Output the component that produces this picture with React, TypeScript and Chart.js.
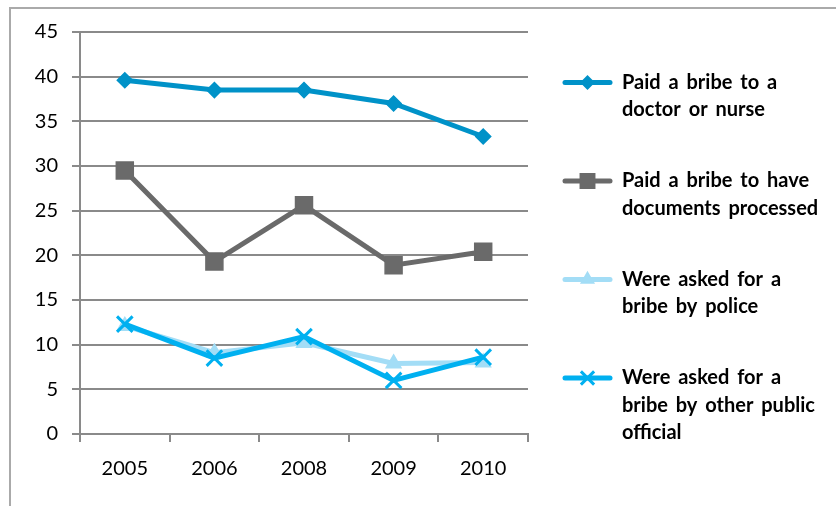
import React, { useEffect, useRef } from "react";
import { Chart, registerables } from "chart.js";
import { drawPoint } from "chart.js/helpers";

Chart.register(...registerables);

const categories = ["2005", "2006", "2008", "2009", "2010"];
const doctorNurse = [39.6, 38.5, 38.5, 37.0, 33.3];
const documentsProcessed = [29.5, 19.3, 25.6, 18.9, 20.4];
const askedByPolice = [12.1, 9.1, 10.2, 7.9, 8.0];
const askedByOtherOfficial = [12.3, 8.5, 10.9, 6.0, 8.6];

const seriesNames = [
  "Paid a bribe to a doctor or nurse",
  "Paid a bribe to have documents processed",
  "Were asked for a bribe by police",
  "Were asked for a bribe by other public official",
];
const legendLines = [
  ["Paid a bribe to a", "doctor or nurse"],
  ["Paid a bribe to have", "documents processed"],
  ["Were asked for a", "bribe by police"],
  ["Were asked for a", "bribe by other public", "official"],
];

const yMin = 0;
const yMax = 45;
const yStep = 5;

const GRID = "#8a8a8a";

const framePlugin = {
  id: "frame",
  beforeDraw(chart: any) {
    const ctx = chart.ctx;
    ctx.save();
    ctx.strokeStyle = "#aaaaaa";
    ctx.lineWidth = 2;
    ctx.beginPath();
    ctx.moveTo(10, 506);
    ctx.lineTo(10, 8);
    ctx.lineTo(836, 8);
    ctx.stroke();
    ctx.restore();
  },
};

const legendPlugin = {
  id: "sideLegend",
  afterDraw(chart: any) {
    const ctx = chart.ctx;
    chart.data.datasets.forEach((ds: any, i: number) => {
      const y = 82.5 + i * 98.5;
      ctx.save();
      ctx.strokeStyle = ds.borderColor;
      ctx.lineWidth = 5;
      ctx.lineCap = "round";
      ctx.beginPath();
      ctx.moveTo(565, y);
      ctx.lineTo(610, y);
      ctx.stroke();
      ctx.fillStyle = ds.pointBackgroundColor;
      ctx.strokeStyle = ds.pointBorderColor;
      ctx.lineWidth = ds.pointBorderWidth;
      ctx.lineCap = "butt";
      drawPoint(
        ctx,
        {
          radius: ds.pointRadius * 0.85,
          pointStyle: ds.pointStyle,
          rotation: 0,
          borderWidth: ds.pointBorderWidth,
        } as any,
        587.5,
        y
      );
      ctx.fillStyle = "#000000";
      ctx.font = "bold 20px Lato";
      try {
        (ctx as any).wordSpacing = "3px";
      } catch (e) {}
      ctx.textBaseline = "middle";
      ctx.textAlign = "left";
      legendLines[i].forEach((line, j) => {
        ctx.fillText(line, 622, y + j * 27.5);
      });
      ctx.restore();
    });
  },
};

export default function App() {
  const ref = useRef<HTMLCanvasElement | null>(null);

  useEffect(() => {
    if (!ref.current) return;
    const mk = (
      label: string,
      data: number[],
      color: string,
      style: string,
      radius: number,
      bw: number,
      order: number
    ) => ({
      label,
      data,
      borderColor: color,
      backgroundColor: color,
      pointBackgroundColor: color,
      pointBorderColor: color,
      pointStyle: style,
      pointRadius: radius,
      pointBorderWidth: bw,
      borderWidth: 5,
      tension: 0,
      order,
    });
    const chart = new Chart(ref.current, {
      type: "line",
      data: {
        labels: categories,
        datasets: [
          mk(seriesNames[0], doctorNurse, "#0092c8", "rectRot", 7.5, 1.5, 1),
          mk(seriesNames[1], documentsProcessed, "#6a6a6a", "rect", 12, 1.5, 2),
          mk(seriesNames[2], askedByPolice, "#a3ddf6", "triangle", 8.5, 1.5, 4),
          mk(seriesNames[3], askedByOtherOfficial, "#00b0f0", "crossRot", 11, 3, 3),
        ] as any,
      },
      options: {
        responsive: false,
        animation: false,
        layout: { padding: { top: 32, right: 308, left: 0, bottom: 0 } },
        plugins: {
          legend: { display: false },
          tooltip: { enabled: false },
        },
        scales: {
          x: {
            offset: true,
            grid: {
              offset: true,
              drawOnChartArea: false,
              drawTicks: true,
              tickLength: 8,
              color: GRID,
              lineWidth: 2,
            },
            border: { display: true, color: GRID, width: 2 },
            ticks: {
              color: "#000000",
              font: { family: "Lato", size: 20 },
              padding: 15,
              maxRotation: 0,
            },
            afterFit(scale: any) {
              scale.height = 72;
            },
          },
          y: {
            min: yMin,
            max: yMax,
            grid: {
              color: GRID,
              lineWidth: 2,
              tickLength: 8,
              drawTicks: true,
            },
            border: { display: true, color: GRID, width: 2 },
            ticks: {
              stepSize: yStep,
              color: "#000000",
              font: { family: "Lato", size: 20 },
              padding: 14,
            },
            afterFit(scale: any) {
              scale.width = 80;
            },
          },
        },
      },
      plugins: [framePlugin, legendPlugin],
    });
    return () => chart.destroy();
  }, []);

  return (
    <div
      style={{
        position: "fixed",
        left: 0,
        top: 0,
        width: 836,
        height: 506,
        background: "#ffffff",
      }}
    >
      <canvas ref={ref} width={836} height={506} style={{ width: 836, height: 506 }} />
    </div>
  );
}
